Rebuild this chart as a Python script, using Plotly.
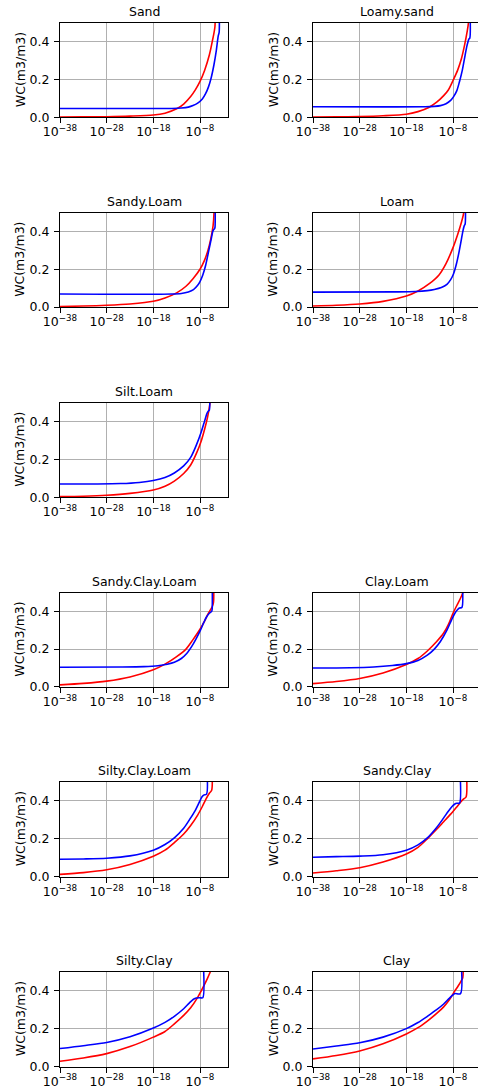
import plotly.graph_objects as go

# ---------------- data (x stored as log10 of the x value) ----------------
sand_red_logx = [-38, -33, -28, -23, -18, -15.5, -13, -11.5, -10, -9, -8, -7, -6, -5.3, -4.8, -4.8]
sand_red_wc = [0.001, 0.002, 0.003, 0.006, 0.012, 0.022, 0.045, 0.07, 0.11, 0.145, 0.19, 0.25, 0.33, 0.41, 0.48, 0.6]
sand_blue_logx = [-38, -20, -14, -12, -10.5, -9.5, -8.5, -7.5, -6.8, -6.2, -5.6, -5, -4.5, -4.1, -3.9, -3.9]
sand_blue_wc = [0.047, 0.047, 0.047, 0.049, 0.054, 0.062, 0.075, 0.097, 0.125, 0.16, 0.21, 0.28, 0.355, 0.43, 0.45, 0.6]

loamysand_red_logx = [-38, -33, -28, -23, -18, -15.5, -13.2, -11.5, -10, -9, -8, -7, -6.2, -5.5, -5, -4.7, -4.7]
loamysand_red_wc = [0.001, 0.002, 0.004, 0.008, 0.016, 0.03, 0.052, 0.08, 0.115, 0.145, 0.195, 0.25, 0.31, 0.385, 0.45, 0.5, 0.6]
loamysand_blue_logx = [-38, -14, -12, -10.7, -9.5, -8.5, -7.9, -7.2, -6.6, -6, -5.4, -5, -4.6, -4.4, -4.4]
loamysand_blue_wc = [0.056, 0.056, 0.058, 0.062, 0.072, 0.09, 0.108, 0.14, 0.19, 0.25, 0.33, 0.38, 0.415, 0.42, 0.6]

sandyloam_red_logx = [-38, -33, -28, -23, -18, -15.5, -13, -11, -9.5, -8, -7, -6.3, -5.7, -5.2, -5, -5]
sandyloam_red_wc = [0.003, 0.005, 0.009, 0.016, 0.03, 0.048, 0.075, 0.11, 0.15, 0.2, 0.25, 0.3, 0.36, 0.43, 0.5, 0.6]
sandyloam_blue_logx = [-38, -14, -12, -10.5, -9.4, -8.5, -8, -7.4, -6.8, -6.2, -5.6, -5.2, -4.9, -4.8, -4.8]
sandyloam_blue_wc = [0.069, 0.069, 0.072, 0.08, 0.092, 0.115, 0.135, 0.17, 0.22, 0.29, 0.36, 0.405, 0.415, 0.42, 0.6]

loam_red_logx = [-38, -33, -28, -23, -18, -15.5, -13, -11, -9.5, -8, -7, -6.3, -5.7, -5.7]
loam_red_wc = [0.005, 0.009, 0.016, 0.03, 0.058, 0.085, 0.125, 0.17, 0.23, 0.315, 0.385, 0.44, 0.5, 0.6]
loam_blue_logx = [-38, -20, -16, -13.5, -12, -10.5, -9.3, -8.5, -7.9, -7.3, -6.8, -6.3, -5.9, -5.6, -5.4, -5.4]
loam_blue_wc = [0.079, 0.08, 0.082, 0.087, 0.093, 0.103, 0.12, 0.145, 0.175, 0.225, 0.28, 0.345, 0.40, 0.43, 0.44, 0.6]

siltloam_red_logx = [-38, -33, -28, -23, -18, -15.5, -13.5, -11.5, -10, -8.7, -7.7, -7, -6.4, -5.9, -5.7]
siltloam_red_wc = [0.003, 0.005, 0.01, 0.02, 0.038, 0.058, 0.085, 0.125, 0.17, 0.235, 0.3, 0.36, 0.42, 0.49, 0.55]
siltloam_blue_logx = [-38, -30, -25, -21, -18, -15.5, -13.5, -11.5, -10, -8.7, -7.7, -7, -6.5, -6.2, -6, -6]
siltloam_blue_wc = [0.07, 0.07, 0.072, 0.078, 0.088, 0.104, 0.128, 0.165, 0.21, 0.28, 0.347, 0.403, 0.443, 0.455, 0.46, 0.6]

sandyclayloam_red_logx = [-38, -33, -28, -23, -18, -15.5, -13, -11, -9.5, -8, -7, -6.3, -5.7, -5.3, -5.1, -5.1]
sandyclayloam_red_wc = [0.01, 0.018, 0.03, 0.052, 0.09, 0.12, 0.16, 0.2, 0.25, 0.305, 0.35, 0.385, 0.41, 0.43, 0.45, 0.6]
sandyclayloam_blue_logx = [-38, -25, -20, -17, -15, -13.5, -12, -10.9, -9.5, -8, -7.2, -6.6, -6, -5.5, -5.4, -5.4]
sandyclayloam_blue_wc = [0.104, 0.105, 0.107, 0.112, 0.12, 0.13, 0.15, 0.175, 0.225, 0.295, 0.34, 0.37, 0.39, 0.40, 0.41, 0.6]

clayloam_red_logx = [-38, -33, -28, -23, -18, -15.5, -13.5, -11.5, -10, -9, -8, -7, -6.3, -5.9, -5.9]
clayloam_red_wc = [0.017, 0.028, 0.044, 0.073, 0.118, 0.15, 0.19, 0.24, 0.285, 0.33, 0.39, 0.44, 0.475, 0.5, 0.6]
clayloam_blue_logx = [-38, -30, -25, -21, -18, -15.5, -13.5, -12, -10.7, -9.3, -8.3, -7.6, -7, -6.6, -6.1, -6.1]
clayloam_blue_wc = [0.10, 0.101, 0.105, 0.113, 0.123, 0.14, 0.168, 0.2, 0.24, 0.3, 0.355, 0.39, 0.41, 0.418, 0.42, 0.6]

siltyclayloam_red_logx = [-38, -33, -28, -23, -18, -15.5, -13.5, -11.5, -10, -8.5, -7.5, -6.7, -6, -5.5, -5.5]
siltyclayloam_red_wc = [0.013, 0.022, 0.037, 0.065, 0.108, 0.14, 0.18, 0.225, 0.27, 0.325, 0.37, 0.41, 0.44, 0.455, 0.6]
siltyclayloam_blue_logx = [-38, -33, -28, -23, -18, -15.5, -13.5, -11.5, -10, -9, -8.2, -7.6, -7.2, -6.6, -6.6]
siltyclayloam_blue_wc = [0.092, 0.094, 0.098, 0.11, 0.14, 0.17, 0.205, 0.255, 0.31, 0.35, 0.39, 0.42, 0.43, 0.435, 0.6]

sandyclay_red_logx = [-38, -33, -28, -23, -18, -15.5, -13.5, -11.5, -10, -8.5, -7.3, -6.3, -5.7, -5.2, -5.2]
sandyclay_red_wc = [0.02, 0.032, 0.048, 0.078, 0.12, 0.155, 0.2, 0.25, 0.29, 0.33, 0.365, 0.395, 0.41, 0.42, 0.6]
sandyclay_blue_logx = [-38, -33, -28, -23, -18, -15.5, -13.5, -11.5, -10, -9, -8.2, -7.6, -7.2, -6.6, -6.6]
sandyclay_blue_wc = [0.103, 0.106, 0.109, 0.116, 0.14, 0.168, 0.205, 0.26, 0.31, 0.345, 0.37, 0.383, 0.387, 0.388, 0.6]

siltyclay_red_logx = [-38, -33, -28, -23, -18, -15.5, -13.5, -11.5, -10, -8.5, -7.3, -6.5, -5.8, -5.5]
siltyclay_red_wc = [0.028, 0.045, 0.068, 0.105, 0.155, 0.185, 0.225, 0.27, 0.31, 0.365, 0.42, 0.46, 0.5, 0.53]
siltyclay_blue_logx = [-38, -33, -28, -23, -18, -15.5, -13.5, -11.5, -10.3, -9.4, -8.8, -8, -7.4, -7.4]
siltyclay_blue_wc = [0.095, 0.11, 0.127, 0.157, 0.203, 0.233, 0.265, 0.305, 0.335, 0.355, 0.362, 0.363, 0.363, 0.6]

clay_red_logx = [-38, -33, -28, -23, -18, -15.5, -13.5, -11.5, -10, -8.7, -7.7, -6.9, -6.3, -5.9, -5.9]
clay_red_wc = [0.04, 0.058, 0.082, 0.12, 0.172, 0.205, 0.24, 0.28, 0.315, 0.355, 0.395, 0.425, 0.45, 0.47, 0.6]
clay_blue_logx = [-38, -33, -28, -23, -18, -15.5, -13.5, -11.5, -10, -8.8, -8, -7.6, -6.4, -6.4]
clay_blue_wc = [0.092, 0.108, 0.125, 0.155, 0.2, 0.232, 0.265, 0.3, 0.33, 0.36, 0.378, 0.385, 0.385, 0.6]

soil_names = ["Sand", "Loamy.sand", "Sandy.Loam", "Loam", "Silt.Loam", "Sandy.Clay.Loam",
              "Clay.Loam", "Silty.Clay.Loam", "Sandy.Clay", "Silty.Clay", "Clay"]
soil_cells = [(0, 0), (0, 1), (1, 0), (1, 1), (2, 0), (3, 0), (3, 1), (4, 0), (4, 1), (5, 0), (5, 1)]
soil_series = [
    (sand_red_logx, sand_red_wc, sand_blue_logx, sand_blue_wc),
    (loamysand_red_logx, loamysand_red_wc, loamysand_blue_logx, loamysand_blue_wc),
    (sandyloam_red_logx, sandyloam_red_wc, sandyloam_blue_logx, sandyloam_blue_wc),
    (loam_red_logx, loam_red_wc, loam_blue_logx, loam_blue_wc),
    (siltloam_red_logx, siltloam_red_wc, siltloam_blue_logx, siltloam_blue_wc),
    (sandyclayloam_red_logx, sandyclayloam_red_wc, sandyclayloam_blue_logx, sandyclayloam_blue_wc),
    (clayloam_red_logx, clayloam_red_wc, clayloam_blue_logx, clayloam_blue_wc),
    (siltyclayloam_red_logx, siltyclayloam_red_wc, siltyclayloam_blue_logx, siltyclayloam_blue_wc),
    (sandyclay_red_logx, sandyclay_red_wc, sandyclay_blue_logx, sandyclay_blue_wc),
    (siltyclay_red_logx, siltyclay_red_wc, siltyclay_blue_logx, siltyclay_blue_wc),
    (clay_red_logx, clay_red_wc, clay_blue_logx, clay_blue_wc),
]
x_tick_exps = [-38, -28, -18, -8]
y_tick_vals = [0.0, 0.2, 0.4]
y_label = "WC(m3/m3)"

# ---------------- layout geometry ----------------
W, H = 478, 1089
rows_px = [(23, 117.3), (212.7, 307), (402.5, 497.2), (592.5, 686.8), (781.8, 876.8), (971.8, 1066.5)]
cols_px = [(60, 228.3), (313, 478)]
px_per_decade = 140 / 30.0
FONT = "DejaVu Sans"

fig = go.Figure()
layout = dict(width=W, height=H, margin=dict(l=0, r=0, t=0, b=0, autoexpand=False),
              template="none",
              paper_bgcolor="white", plot_bgcolor="white", showlegend=False,
              font=dict(family=FONT, size=12.5, color="#000"))
annotations = []

for i, (name, (r, c), ser) in enumerate(zip(soil_names, soil_cells, soil_series)):
    k = i + 1
    xa = "xaxis" if k == 1 else f"xaxis{k}"
    ya = "yaxis" if k == 1 else f"yaxis{k}"
    xr = "x" if k == 1 else f"x{k}"
    yr = "y" if k == 1 else f"y{k}"
    x0, x1 = cols_px[c]
    top, bot = rows_px[r]
    xmax = -38 + (x1 - x0) / px_per_decade
    layout[xa] = dict(
        domain=[x0 / W, x1 / W], anchor=yr, type="log", range=[-38, xmax],
        tickvals=[10.0 ** e for e in x_tick_exps],
        ticktext=["10<sup>\u2212%d</sup>" % (-e) for e in x_tick_exps],
        showgrid=True, gridcolor="#b0b0b0", gridwidth=1,
        showline=True, linecolor="#000", linewidth=1, mirror=True,
        ticks="outside", ticklen=5, tickcolor="#000", tickwidth=1,
        tickfont=dict(size=12.5, family=FONT), zeroline=False, fixedrange=True,
        automargin=False, ticklabelstandoff=-2,
    )
    layout[ya] = dict(
        domain=[1 - bot / H, 1 - top / H], anchor=xr, range=[0, 0.5],
        tickvals=y_tick_vals, ticktext=["%.1f" % v for v in y_tick_vals],
        showgrid=True, gridcolor="#b0b0b0", gridwidth=1,
        showline=True, linecolor="#000", linewidth=1, mirror=(c == 0),
        ticks="outside", ticklen=5, tickcolor="#000", tickwidth=1,
        tickfont=dict(size=12.5, family=FONT), zeroline=False, fixedrange=True,
        ticklabelstandoff=2, automargin=False,
    )
    rlx, rwc, blx, bwc = ser
    fig.add_trace(go.Scatter(x=[10.0 ** e for e in rlx], y=rwc, mode="lines",
                             line=dict(color="#ff0000", width=1.6, shape="spline", smoothing=0.8),
                             xaxis=xr, yaxis=yr))
    fig.add_trace(go.Scatter(x=[10.0 ** e for e in blx], y=bwc, mode="lines",
                             line=dict(color="#0000ff", width=1.6, shape="spline", smoothing=0.8),
                             xaxis=xr, yaxis=yr))
    cx = (x0 + (x0 + 168.3)) / 2 / W
    annotations.append(dict(text=name, x=cx, y=1 - (top - 11.5) / H, xref="paper", yref="paper",
                            xanchor="center", yanchor="middle", showarrow=False,
                            font=dict(size=12.5, family=FONT, color="#000")))
    annotations.append(dict(text=y_label, x=(x0 - 40) / W, y=1 - ((top + bot) / 2) / H,
                            xref="paper", yref="paper", xanchor="center", yanchor="middle",
                            textangle=-90, showarrow=False,
                            font=dict(size=12.5, family=FONT, color="#000")))

layout["annotations"] = annotations
fig.update_layout(**layout)
fig.write_html("out.html")
